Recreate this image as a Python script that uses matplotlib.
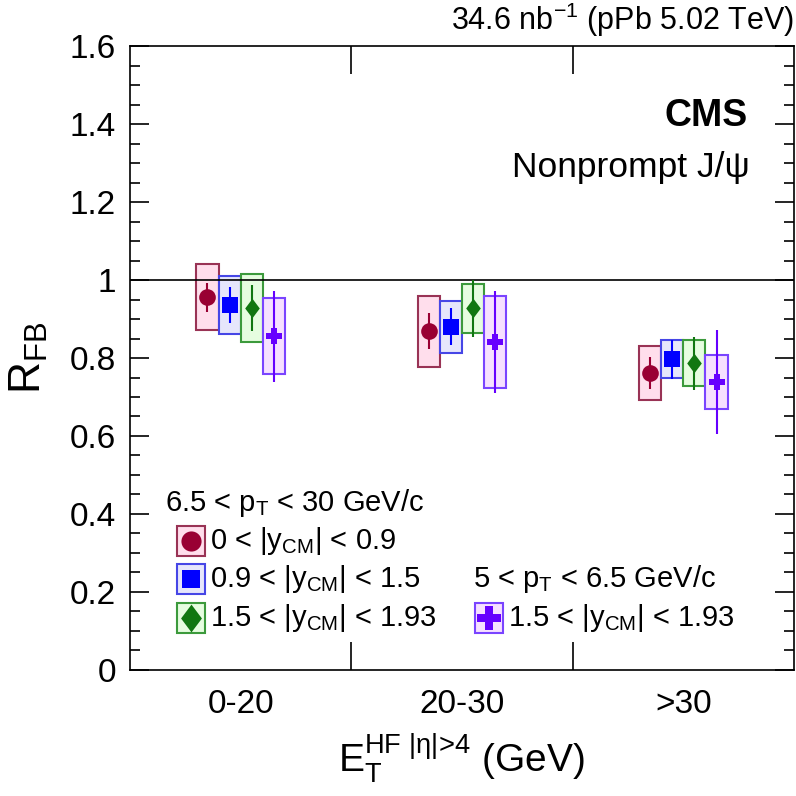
import matplotlib
matplotlib.use("Agg")
import matplotlib.pyplot as plt
from matplotlib.patches import Rectangle
from matplotlib.path import Path
from matplotlib.ticker import MultipleLocator, FixedLocator

plt.rcParams['font.family'] = ['Liberation Sans', 'DejaVu Sans']
plt.rcParams['mathtext.fontset'] = 'custom'
plt.rcParams['mathtext.rm'] = 'Liberation Sans'
plt.rcParams['mathtext.it'] = 'Liberation Sans'
plt.rcParams['mathtext.bf'] = 'Liberation Sans:bold'
plt.rcParams['mathtext.default'] = 'regular'

# ---------------- data ----------------
categories = ["0-20", "20-30", ">30"]

labels = [r"0 < |y$_{CM}$| < 0.9",
          r"0.9 < |y$_{CM}$| < 1.5",
          r"1.5 < |y$_{CM}$| < 1.93",
          r"1.5 < |y$_{CM}$| < 1.93"]

rfb_y0_09 = [0.956, 0.869, 0.762]
stat_y0_09 = [0.037, 0.046, 0.041]
syst_y0_09 = [0.084, 0.091, 0.070]

rfb_y09_15 = [0.936, 0.880, 0.797]
stat_y09_15 = [0.045, 0.047, 0.050]
syst_y09_15 = [0.075, 0.066, 0.048]

rfb_y15_193 = [0.928, 0.928, 0.787]
stat_y15_193 = [0.060, 0.073, 0.068]
syst_y15_193 = [0.088, 0.063, 0.060]

rfb_lowpt = [0.856, 0.841, 0.738]
stat_lowpt = [0.117, 0.132, 0.133]
syst_lowpt = [0.097, 0.117, 0.069]

series = [
    (rfb_y0_09, stat_y0_09, syst_y0_09),
    (rfb_y09_15, stat_y09_15, syst_y09_15),
    (rfb_y15_193, stat_y15_193, syst_y15_193),
    (rfb_lowpt, stat_lowpt, syst_lowpt),
]

# ---------------- style ----------------
tall_diamond = Path([(0, 1), (0.75, 0), (0, -1), (-0.75, 0), (0, 1)],
                    [Path.MOVETO, Path.LINETO, Path.LINETO, Path.LINETO, Path.CLOSEPOLY])
offsets = [-0.15, -0.05, 0.05, 0.15]
box_w = 0.1
markers = ['o', 's', tall_diamond, 'P']
msizes = [12, 11, 14, 12]
leg_msizes = [14.5, 13, 20, 17]
mcolors = ['#990033', '#0000ff', '#117711', '#6600ff']
ecolors = ['#993355', '#4646e6', '#3c9a3c', '#7a44ff']
fcolors = ['#ffdeec', '#e6e6fb', '#e6fde0', '#f6e0ff']

fig = plt.figure(figsize=(7.96, 7.96), dpi=100)
ax = fig.add_axes([0.1633, 0.1583, 0.8342, 0.7839])

centers = [i + 0.5 for i in range(len(categories))]

for k, (vals, stat, syst) in enumerate(series):
    xs = [c + offsets[k] for c in centers]
    ax.bar(xs, [2 * s for s in syst], bottom=[v - s for v, s in zip(vals, syst)],
           width=box_w, color=fcolors[k], edgecolor=ecolors[k], linewidth=1.5, zorder=2)
    ax.errorbar(xs, vals, yerr=stat, fmt='none', ecolor=mcolors[k], elinewidth=1.5,
                capsize=0, zorder=4)
    ax.plot(xs, vals, linestyle='none', marker=markers[k], markersize=msizes[k],
            color=mcolors[k], markeredgewidth=0, zorder=5)

ax.axhline(1.0, color='black', linewidth=1.2, zorder=3)

ax.set_xlim(0, 3)
ax.set_ylim(0, 1.6)

ax.set_xticks(centers)
ax.set_xticklabels(categories, fontsize=24)
ax.xaxis.set_minor_locator(FixedLocator([1, 2]))
ax.tick_params(axis='x', which='major', length=0, pad=14)
ax.tick_params(axis='x', which='minor', length=20, width=1.2, direction='in',
               top=True, bottom=True)

ax.yaxis.set_minor_locator(MultipleLocator(0.05))
ax.set_yticks([0, 0.2, 0.4, 0.6, 0.8, 1.0, 1.2, 1.4, 1.6])
ax.set_yticklabels(['0', '0.2', '0.4', '0.6', '0.8', '1', '1.2', '1.4', '1.6'], fontsize=24)
ax.tick_params(axis='y', which='major', length=14, width=1.2, direction='in',
               left=True, right=True, pad=10)
ax.tick_params(axis='y', which='minor', length=7, width=1.2, direction='in',
               left=True, right=True)
for sp in ax.spines.values():
    sp.set_linewidth(1.2)

ax.set_ylabel(r"R$_{FB}$", fontsize=32, labelpad=14)
ax.set_xlabel(r"E$_T^{HF\ |\eta|\!>\!4}$ (GeV)", fontsize=28, labelpad=8)

ax.text(1.0, 1.012, r"34.6 nb$^{-1}$ (pPb 5.02 TeV)", transform=ax.transAxes,
        ha='right', va='bottom', fontsize=22)
ax.text(0.931, 0.888, "CMS", transform=ax.transAxes, ha='right', va='center',
        fontsize=27, fontweight='bold')
ax.text(0.934, 0.806, "Nonprompt J/ψ", transform=ax.transAxes, ha='right',
        va='center', fontsize=25.5)

# ---------------- legend (manual) ----------------
def legend_entry(xc, yc, k, text, xt):
    w, h = 0.042, 0.048
    ax.add_patch(Rectangle((xc - w / 2, yc - h / 2), w, h, transform=ax.transAxes,
                           facecolor=fcolors[k], edgecolor=ecolors[k], linewidth=1.5,
                           zorder=6, clip_on=False))
    ax.plot([xc], [yc], transform=ax.transAxes, marker=markers[k],
            markersize=leg_msizes[k], color=mcolors[k], markeredgewidth=0, zorder=7,
            clip_on=False)
    ax.text(xt, yc, text, transform=ax.transAxes, ha='left', va='center', fontsize=21)

ax.text(0.0527, 0.2676, r"6.5 < p$_T$ < 30 GeV/c", transform=ax.transAxes,
        ha='left', va='center', fontsize=21)
rows = [0.2067, 0.1458, 0.0833]
for k in range(3):
    legend_entry(0.0919, rows[k], k, labels[k], 0.1205)

ax.text(0.5166, 0.1458, r"5 < p$_T$ < 6.5 GeV/c", transform=ax.transAxes,
        ha='left', va='center', fontsize=21)
legend_entry(0.5407, 0.0833, 3, labels[3], 0.569)

fig.savefig("out.png", dpi=100)
